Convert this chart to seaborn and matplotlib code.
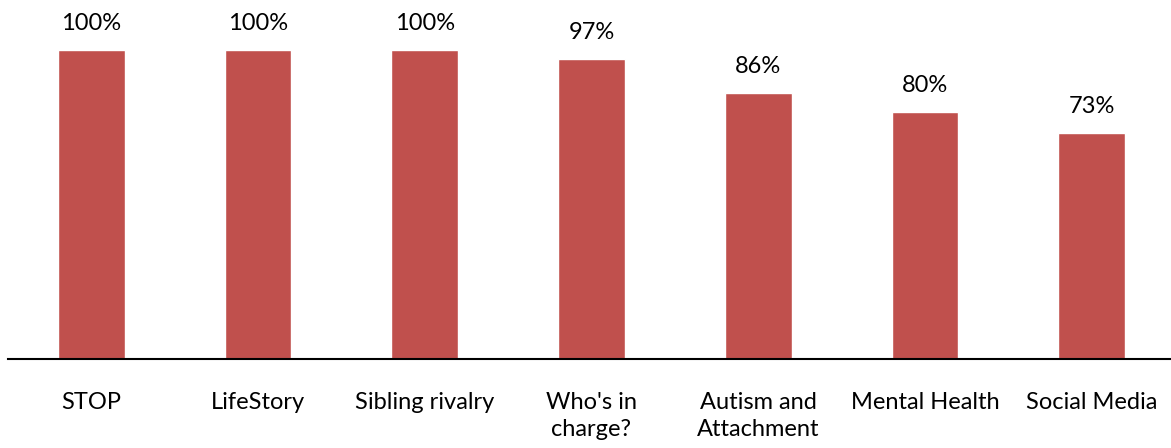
import matplotlib
matplotlib.use("Agg")
import matplotlib.pyplot as plt
import seaborn as sns
import pandas as pd

categories = ["STOP", "LifeStory", "Sibling rivalry", "Who's in\ncharge?",
              "Autism and\nAttachment", "Mental Health", "Social Media"]
values = [100, 100, 100, 97, 86, 80, 73]
value_labels = ["100%", "100%", "100%", "97%", "86%", "80%", "73%"]

sns.set_theme(style="white")
plt.rcParams["font.family"] = ["Lato", "DejaVu Sans"]

df = pd.DataFrame({"topic": categories, "pct": values})

fig = plt.figure(figsize=(11.71, 4.48), dpi=100)
ax = fig.add_axes([8 / 1171, 89 / 448, 1167 / 1171, 359 / 448])

sns.barplot(data=df, x="topic", y="pct", color="#C0504D", saturation=1,
            width=0.4, ax=ax)

ax.set_xlim(-0.5, 6.5)
ax.set_ylim(0, 116.2)

for i, (v, lab) in enumerate(zip(values, value_labels)):
    ax.annotate(lab, (i, v), xytext=(0, 20), textcoords="offset pixels",
                ha="center", va="baseline", fontsize=17, color="black")

for s in ["left", "right", "top"]:
    ax.spines[s].set_visible(False)
ax.spines["bottom"].set_color("black")
ax.spines["bottom"].set_linewidth(1.5)
ax.set_yticks([])
ax.set_xlabel("")
ax.set_ylabel("")
ax.tick_params(axis="x", length=0, pad=24, labelsize=17, labelcolor="black")
for t in ax.get_xticklabels():
    t.set_linespacing(1.32)

fig.savefig("out.png", dpi=100)
